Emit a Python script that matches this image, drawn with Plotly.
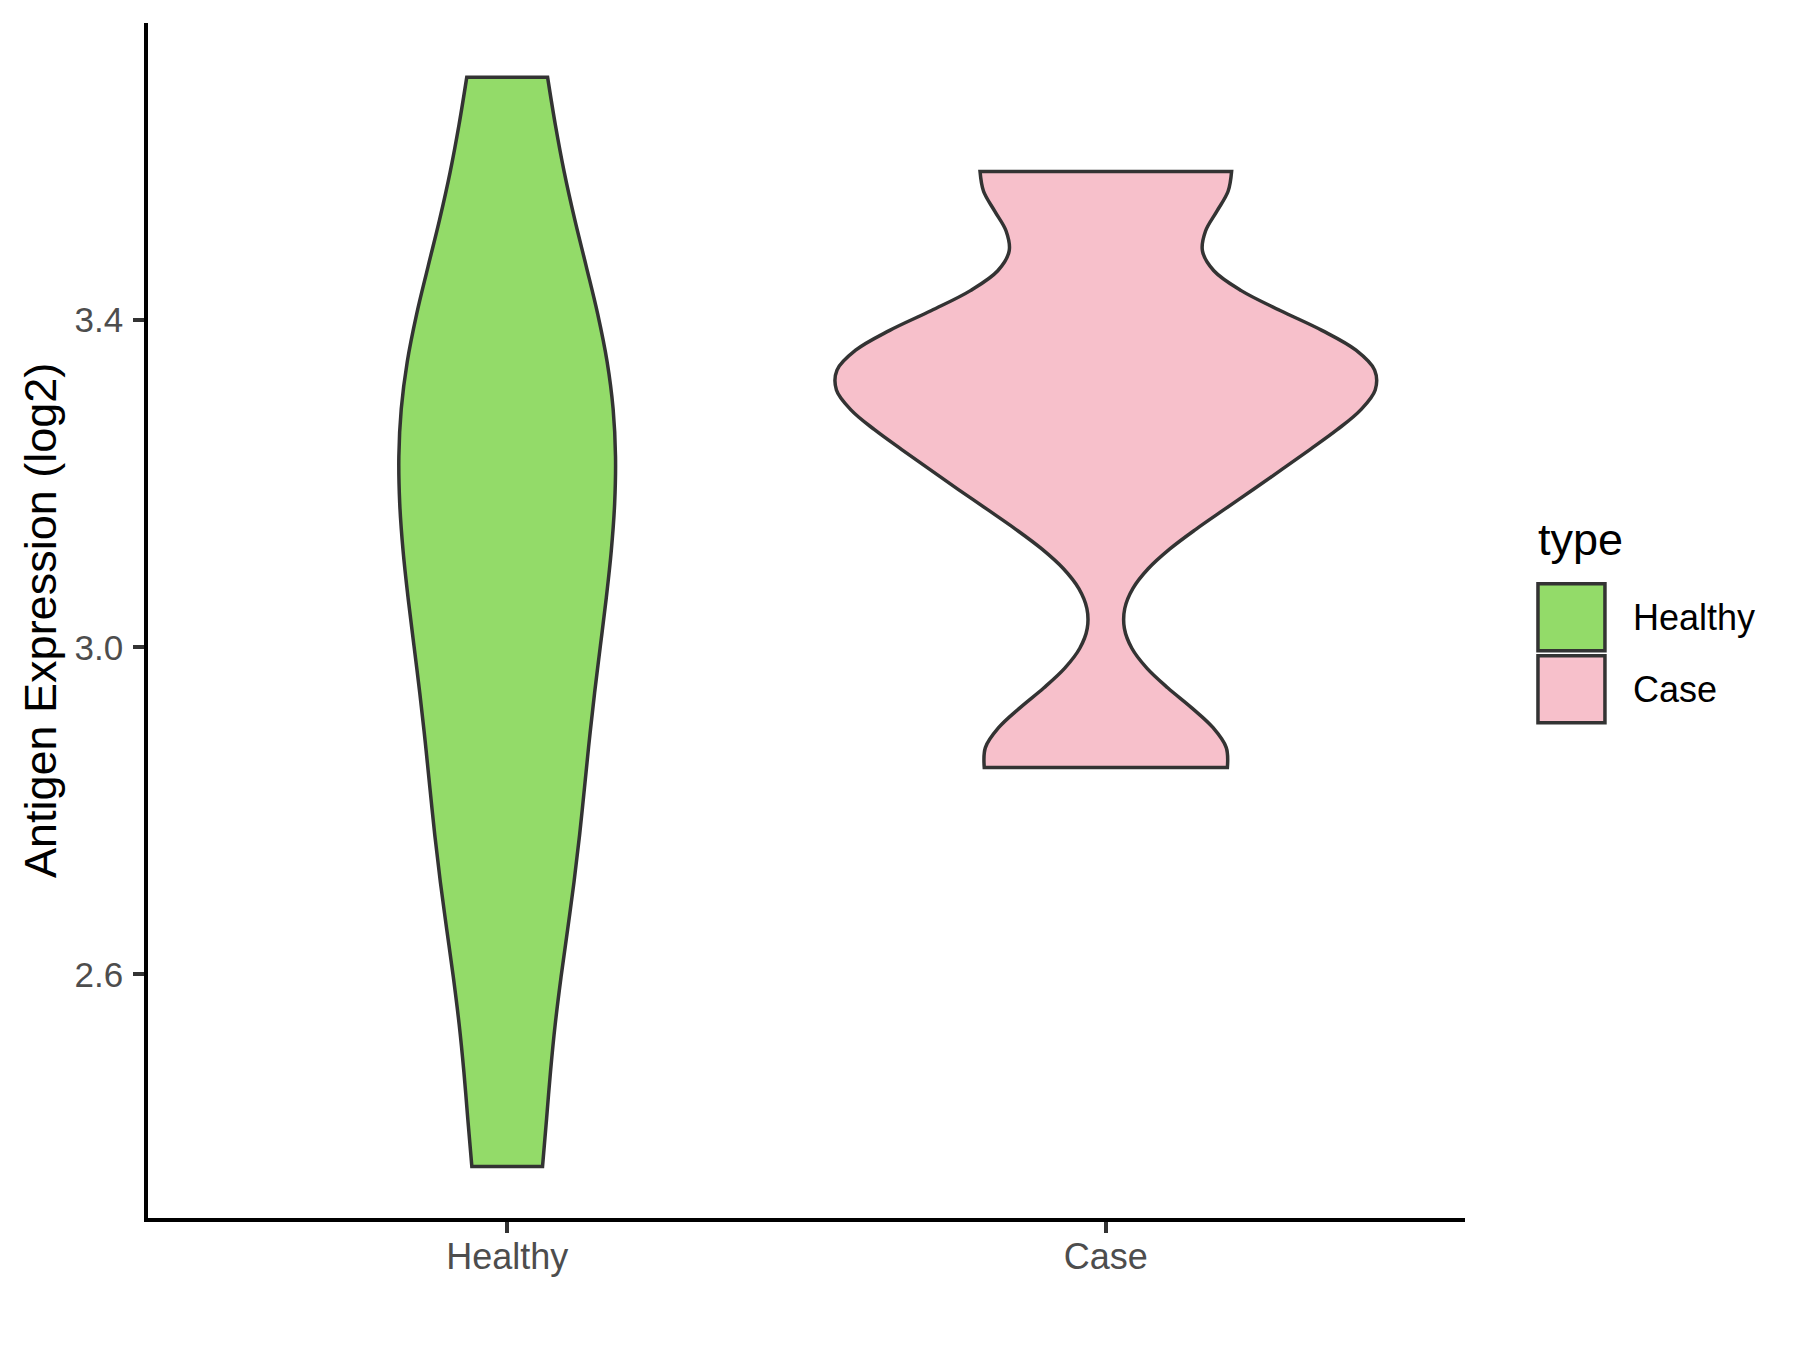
import plotly.graph_objects as go

# ---- data ----
categories = ["Healthy", "Case"]
healthy_values = [2.365, 2.69, 2.8, 3.058, 3.058, 3.244, 3.372, 3.372, 3.697]
case_values = [2.853, 2.873, 3.186, 3.233, 3.334, 3.334, 3.334, 3.378, 3.582, 3.582]
healthy_bandwidth = 0.1775
case_bandwidth = 0.0737
y_tick_values = [2.6, 3.0, 3.4]
y_tick_labels = ["2.6", "3.0", "3.4"]
y_title = "Antigen Expression (log2)"
legend_title = "type"

# ---- style ----
fills = ["#93DB69", "#F7C0CB"]
OUTLINE = "#333333"
FONT = "Liberation Sans, Arial, sans-serif"
LW = 3.5

# figure geometry (page has an 8px body margin)
W, H = 1792, 1342
ML, MR, MT, MB = 139.5, 335, 15, 131.5
PW = W - ML - MR
PH = H - MT - MB


def px(xp):
    return (xp - 8 - ML) / PW


def py(yp):
    return (H - MB - (yp - 8)) / PH


fig = go.Figure()
for cat, vals, bw, fc in [(categories[0], healthy_values, healthy_bandwidth, fills[0]),
                          (categories[1], case_values, case_bandwidth, fills[1])]:
    fig.add_trace(go.Violin(x=[cat] * len(vals), y=vals, name=cat, fillcolor=fc,
                            line=dict(color=OUTLINE, width=LW), points=False,
                            spanmode="hard", bandwidth=bw, scalegroup="all",
                            scalemode="width", showlegend=False,
                            box_visible=False, meanline_visible=False, hoverinfo="skip"))

annotations = [
    dict(text=y_title, textangle=-90, x=px(40), y=0.5, xref="paper", yref="paper",
         xanchor="center", yanchor="middle", showarrow=False,
         font=dict(family=FONT, size=45, color="black")),
    dict(text=legend_title, x=px(1536), y=py(540), xref="paper", yref="paper",
         xanchor="left", yanchor="middle", showarrow=False,
         font=dict(family=FONT, size=45, color="black")),
]
shapes = []
key_tops = [584, 656]
label_mid = [618, 690]
for cat, fc, top, mid in zip(categories, fills, key_tops, label_mid):
    shapes.append(dict(type="rect", xref="paper", yref="paper", x0=px(1538), x1=px(1605),
                       y0=py(top), y1=py(top + 67), fillcolor=fc,
                       line=dict(color=OUTLINE, width=LW)))
    annotations.append(dict(text=cat, x=px(1631), y=py(mid), xref="paper", yref="paper",
                            xanchor="left", yanchor="middle", showarrow=False,
                            font=dict(family=FONT, size=36, color="black")))

fig.update_layout(width=W, height=H, margin=dict(l=ML, r=MR, t=MT, b=MB, pad=0),
                  paper_bgcolor="white", plot_bgcolor="white", violinmode="overlay",
                  violingap=0.1, violingroupgap=0, shapes=shapes, annotations=annotations,
                  font=dict(family=FONT), showlegend=False)
fig.update_xaxes(type="category", categoryorder="array", categoryarray=categories, range=[-0.6, 1.6],
                 showline=True, linecolor="black", linewidth=LW, ticks="outside", ticklen=11,
                 tickwidth=LW, tickcolor=OUTLINE, tickfont=dict(family=FONT, size=36, color="#4D4D4D"),
                 ticklabelstandoff=-7, showgrid=False, zeroline=False)
fig.update_yaxes(range=[2.302, 3.7635], showline=True, linecolor="black", linewidth=LW,
                 tickvals=y_tick_values, ticktext=y_tick_labels, ticks="outside", ticklen=11,
                 tickwidth=LW, tickcolor=OUTLINE, tickfont=dict(family=FONT, size=35, color="#4D4D4D"),
                 ticklabelstandoff=3, showgrid=False, zeroline=False)
fig.write_html("out.html")
